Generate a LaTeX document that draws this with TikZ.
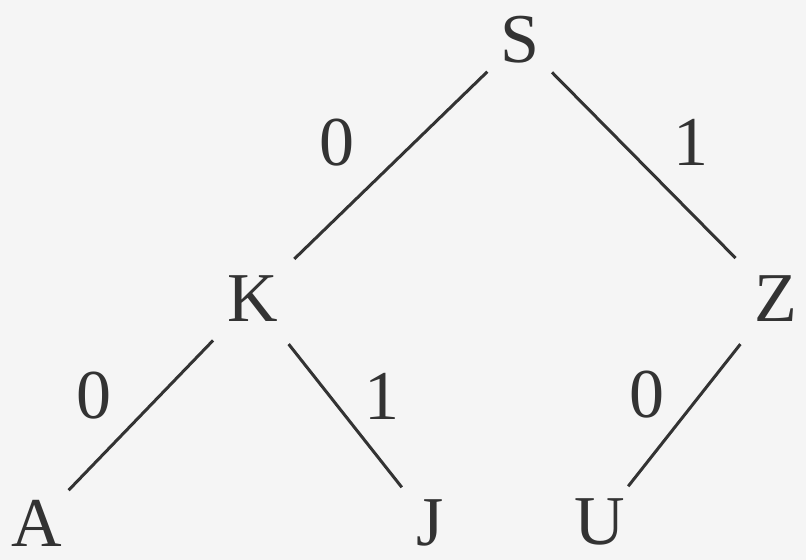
\documentclass[tikz,border=0pt]{standalone}
\usepackage{fontspec}
\setmainfont{Liberation Serif}
\usepackage{xcolor}

\begin{document}
\begin{tikzpicture}[x=0.5pt, y=-0.5pt, line width=1.5pt,
    letter/.style={circle, inner sep=0pt, minimum size=44pt, text=ink, font=\fontsize{35}{40}\selectfont},
    mid/.style={letter, minimum size=56pt},
    bit/.style={inner sep=0pt, text=ink, font=\fontsize{35}{40}\selectfont}]
    \colorlet{ink}{black!80}\colorlet{paper}{black!4}
    \fill[paper] (0,0) rectangle (806,560);
    \useasboundingbox (0,0) rectangle (806,560);
    % tree
    \node[letter] (S) at (520, 40)  {S};
    \node[mid]    (K) at (253, 299) {K};
    \node[mid]    (Z) at (776, 299) {Z};
    \node[letter] (A) at (37, 523)  {A};
    \node[letter] (J) at (430, 523) {J};
    \node[letter] (U) at (600, 522) {U};
    \draw[ink] (S) -- (K);
    \draw[ink] (S) -- (Z);
    \draw[ink] (K) -- (A);
    \draw[ink] (K) -- (J);
    \draw[ink] (Z) -- (U);
    % bits
    \node[bit] (bSK) at (337, 143) {0};
    \node[bit] (bSZ) at (691, 142) {1};
    \node[bit] (bKA) at (94, 396)  {0};
    \node[bit] (bKJ) at (382, 396) {1};
    \node[bit] (bZU) at (647, 395) {0};
\end{tikzpicture}
\end{document}
